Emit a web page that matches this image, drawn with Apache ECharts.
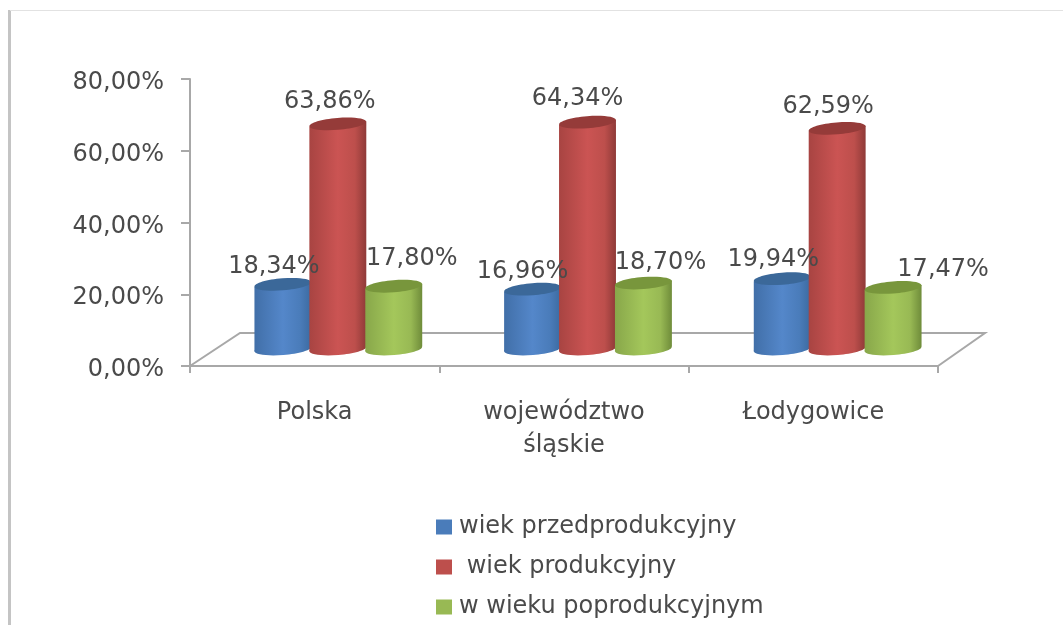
<!DOCTYPE html>
<html>
<head>
<meta charset="utf-8">
<style>
  html, body { margin: 0; padding: 0; background: #fff; }
  #chart { width: 1063px; height: 625px; }
</style>
<script src="https://cdn.jsdelivr.net/npm/echarts@6/dist/echarts.min.js"></script>
</head>
<body>
<div id="chart"></div>
<script>
const categories = ['Polska', 'województwo\nśląskie', 'Łodygowice'];
const przedprodukcyjny = [18.34, 16.96, 19.94];
const produkcyjny = [63.86, 64.34, 62.59];
const poprodukcyjny = [17.8, 18.7, 17.47];
const yTicks = [0, 20, 40, 60, 80];

// labels were moved by hand in the original, so each one has its own nudge
const nudgeBlue = [[-9, -18], [-10, -17], [-9, -19]];
const nudgeRed = [[-8, -22], [-10, -23], [-9, -22]];
const nudgeGreen = [[18, -27], [17, -20], [50, -18]];

const textColor = '#4a4a4a';
const axisColor = '#a8a8a8';
const pct = v => v.toFixed(2).replace('.', ',') + '%';
const chart = echarts.init(document.getElementById('chart'));

function cylinder(shift, colors, nudge) {
  return function (params, api) {
    const i = api.value(0);
    const top = api.coord([i, api.value(1)]);
    const base = api.coord([i, 0]);
    const band = api.size([1, 0])[0];
    const w = band * 0.228;
    const cx = top[0] + band * shift;
    const l = cx - w / 2;
    const r = cx + w / 2;
    const ry = 6;
    const tilt = 2.5;
    const side = new echarts.graphic.LinearGradient(0, 0, 1, 0, [
      { offset: 0, color: colors.edge },
      { offset: 0.5, color: colors.light },
      { offset: 0.8, color: colors.mid },
      { offset: 1, color: colors.dark }
    ]);
    return {
      type: 'group',
      children: [
        {
          type: 'ellipse',
          shape: { cx: cx, cy: base[1], rx: w / 2, ry: ry },
          originX: cx,
          originY: base[1],
          rotation: 0.08,
          style: { fill: side }
        },
        {
          type: 'polygon',
          shape: { points: [[l, top[1] + tilt], [r, top[1] - tilt], [r, base[1] - tilt], [l, base[1] + tilt]] },
          style: { fill: side }
        },
        {
          type: 'ellipse',
          shape: { cx: cx, cy: top[1], rx: w / 2, ry: ry },
          originX: cx,
          originY: top[1],
          rotation: 0.08,
          style: { fill: colors.cap }
        },
        {
          type: 'text',
          z2: 100,
          style: {
            text: pct(api.value(1)),
            x: cx + nudge[i][0],
            y: top[1] + nudge[i][1],
            align: 'center',
            verticalAlign: 'middle',
            fill: textColor,
            font: '24px "DejaVu Sans"'
          }
        }
      ]
    };
  };
}

function cylinderSeries(name, values, shift, colors, nudge) {
  return {
    name: name,
    type: 'custom',
    xAxisIndex: 1,
    yAxisIndex: 1,
    itemStyle: { color: colors.mid },
    encode: { x: 0, y: 1 },
    data: values.map((v, i) => [i, v]),
    renderItem: cylinder(shift, colors, nudge)
  };
}

const blue = { edge: '#416fa8', mid: '#4a7cba', light: '#5487ca', dark: '#3c6aa0', cap: '#3b6899' };
const red = { edge: '#a84442', mid: '#bd4f4c', light: '#cb5453', dark: '#8f3a38', cap: '#953b39' };
const green = { edge: '#88a74a', mid: '#98b954', light: '#a4c75b', dark: '#6f8c3a', cap: '#78963c' };

chart.setOption({
  animation: false,
  backgroundColor: '#fff',
  grid: [
    { left: 190, right: 125, top: 79, height: 287 },
    { left: 213, right: 101, top: 67, height: 282 }
  ],
  xAxis: [
    {
      type: 'category',
      data: categories,
      axisLine: { lineStyle: { color: axisColor, width: 2 } },
      axisTick: { show: true, alignWithLabel: false, length: 7, lineStyle: { color: axisColor, width: 2 } },
      axisLabel: { color: textColor, fontFamily: 'DejaVu Sans', fontSize: 24, lineHeight: 33, margin: 30 }
    },
    { type: 'category', gridIndex: 1, data: categories, show: false }
  ],
  yAxis: [
    {
      type: 'value',
      min: yTicks[0],
      max: yTicks[yTicks.length - 1],
      interval: 20,
      axisLine: { show: true, lineStyle: { color: axisColor, width: 2 } },
      axisTick: { show: true, length: 9, lineStyle: { color: axisColor, width: 2 } },
      splitLine: { show: false },
      axisLabel: {
        margin: 26,
        formatter: v => '{t|' + pct(v) + '}',
        rich: { t: { color: textColor, fontFamily: 'DejaVu Sans', fontSize: 24, padding: [8, 0, 0, 0] } }
      }
    },
    { type: 'value', gridIndex: 1, min: 0, max: 80, show: false }
  ],
  legend: {
    orient: 'vertical',
    left: 431,
    top: 510,
    icon: 'rect',
    itemWidth: 16,
    itemHeight: 15,
    itemGap: 16,
    textStyle: { color: textColor, fontFamily: 'DejaVu Sans', fontSize: 24, padding: [0, 0, 0, 2] },
    data: ['wiek przedprodukcyjny', ' wiek produkcyjny', 'w wieku poprodukcyjnym']
  },
  graphic: [
    // picture frame
    { type: 'rect', z: 0, shape: { x: 8, y: 10, width: 3, height: 615 }, style: { fill: '#c4c4c4' } },
    { type: 'rect', z: 0, shape: { x: 10, y: 10, width: 1053, height: 1 }, style: { fill: '#e2e2e2' } },
    // floor of the 3d plot
    {
      type: 'polyline',
      z: 1,
      shape: { points: [[190, 366], [240, 333], [985, 333], [938, 366]] },
      style: { stroke: axisColor, lineWidth: 2, fill: null }
    }
  ],
  series: [
    cylinderSeries('wiek przedprodukcyjny', przedprodukcyjny, -0.22, blue, nudgeBlue),
    cylinderSeries(' wiek produkcyjny', produkcyjny, 0, red, nudgeRed),
    cylinderSeries('w wieku poprodukcyjnym', poprodukcyjny, 0.224, green, nudgeGreen)
  ]
});
</script>
</body>
</html>
